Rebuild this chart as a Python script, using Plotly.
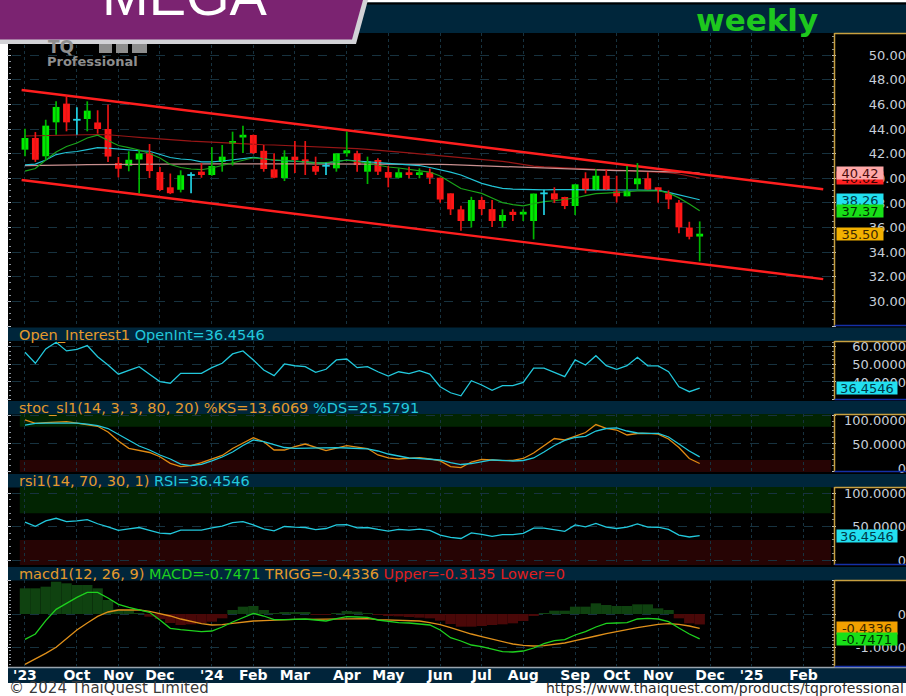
import plotly.graph_objects as go
import pandas as pd

W, H = 906, 696

# ---------------------------------------------------------------- data
weeks = pd.date_range("2023-08-28", periods=66, freq="W-MON").strftime("%d %b %Y").tolist()
xs = list(range(len(weeks)))

month_pos = [0, 5, 9, 13, 18, 22, 26, 31, 35, 40, 44, 48, 53, 57, 61, 66, 70, 75]
month_text = ["'23", "Oct", "Nov", "Dec", "'24", "Feb", "Mar", "Apr", "May", "Jun",
              "Jul", "Aug", "Sep", "Oct", "Nov", "Dec", "'25", "Feb"]

open_ = [42.33, 43.28, 41.79, 44.55, 46.07, 44.76, 44.82, 44.54, 44.01, 41.24,
         41.02, 41.53, 42.04, 40.51, 39.27, 39.07, 40.27, 40.54, 40.27, 41.33,
         42.79, 43.32, 43.52, 42.24, 40.73, 40.02, 41.76, 41.54, 41.00, 41.02,
         40.81, 42.03, 42.03, 40.54, 41.49, 40.51, 40.05, 40.49, 40.27, 40.49,
         40.05, 38.78, 37.48, 36.53, 38.24, 37.50, 36.53, 37.28, 37.06, 36.53,
         38.78, 38.78, 38.48, 37.75, 40.00, 39.05, 40.21, 38.94, 38.54, 39.52,
         40.00, 39.27, 38.78, 38.02, 36.00, 35.27]
high = [44.03, 43.76, 44.76, 46.26, 46.75, 45.77, 46.26, 45.53, 46.00, 41.73,
        42.20, 42.30, 42.79, 40.92, 40.39, 40.65, 40.49, 41.24, 42.54, 42.71,
        43.79, 44.28, 43.56, 42.71, 42.03, 42.28, 43.03, 43.03, 41.76, 41.27,
        42.03, 43.79, 42.24, 41.76, 41.63, 41.00, 40.81, 40.94, 40.81, 40.81,
        40.05, 38.78, 37.77, 38.50, 38.50, 38.24, 37.48, 37.48, 37.48, 38.76,
        39.07, 39.27, 38.50, 39.51, 40.49, 40.73, 40.73, 40.21, 41.00, 41.24,
        40.49, 39.27, 39.02, 38.24, 36.47, 36.50]
low = [41.79, 41.33, 41.51, 43.54, 43.82, 43.54, 43.82, 43.63, 41.33, 40.08,
       40.57, 38.78, 40.02, 38.97, 38.72, 38.86, 38.78, 40.05, 40.20, 40.54,
       41.04, 42.06, 41.98, 40.54, 40.00, 39.78, 40.43, 40.27, 40.27, 40.27,
       40.54, 41.76, 40.54, 39.54, 40.27, 39.27, 40.00, 40.00, 40.00, 39.54,
       38.02, 37.02, 35.74, 36.00, 37.02, 36.04, 36.02, 36.53, 36.53, 35.04,
       37.02, 37.99, 37.50, 37.02, 38.78, 39.05, 39.05, 38.03, 38.54, 39.05,
       39.05, 38.02, 37.50, 35.53, 35.04, 33.25]
close = [43.28, 41.51, 44.28, 45.80, 44.55, 44.76, 45.50, 44.01, 41.77, 40.78,
         41.51, 42.02, 40.59, 39.05, 38.79, 40.25, 40.27, 40.27, 41.00, 41.76,
         43.03, 43.54, 42.06, 40.76, 40.05, 41.76, 41.49, 41.27, 40.54, 41.02,
         42.03, 42.28, 41.08, 41.38, 40.54, 40.05, 40.49, 40.27, 40.49, 40.05,
         38.28, 37.48, 36.53, 38.24, 37.50, 36.53, 37.02, 37.02, 37.28, 38.76,
         38.78, 38.28, 37.75, 39.51, 39.05, 40.21, 39.05, 38.54, 38.99, 40.00,
         39.09, 38.98, 38.28, 36.02, 35.25, 35.50]

ma_fast = [40.59, 40.80, 41.49, 42.14, 42.59, 42.87, 43.28, 43.50, 43.07, 42.67,
           42.50, 42.30, 42.02, 41.65, 41.12, 40.88, 40.76, 40.70, 40.84, 41.06,
           41.24, 41.49, 41.67, 41.57, 41.49, 41.45, 41.41, 41.33, 41.24, 41.28,
           41.37, 41.47, 41.37, 41.22, 41.08, 40.92, 40.84, 40.72, 40.63, 40.51,
           40.19, 39.70, 39.17, 38.97, 38.78, 38.40, 38.03, 37.87, 37.77, 37.95,
           38.11, 38.18, 38.26, 38.40, 38.60, 38.76, 38.80, 38.83, 38.91, 38.97,
           38.99, 38.99, 38.82, 38.41, 37.91, 37.37]
ma_mid = [41.10, 41.15, 41.49, 41.93, 42.10, 42.18, 42.34, 42.49, 42.45, 42.36,
          42.30, 42.24, 42.20, 41.93, 41.69, 41.57, 41.51, 41.33, 41.33, 41.41,
          41.53, 41.65, 41.71, 41.59, 41.47, 41.43, 41.41, 41.34, 41.27, 41.23,
          41.37, 41.49, 41.41, 41.33, 41.26, 41.22, 41.16, 41.11, 41.04, 40.88,
          40.70, 40.51, 40.27, 39.90, 39.59, 39.37, 39.19, 39.13, 39.09, 39.05,
          39.07, 39.09, 39.11, 39.09, 39.07, 39.05, 39.05, 39.05, 39.05, 39.05,
          39.05, 39.02, 38.86, 38.64, 38.44, 38.26]
ma_slow = [43.44, 43.46, 43.50, 43.52, 43.55, 43.58, 43.60, 43.56, 43.54, 43.50,
           43.40, 43.33, 43.26, 43.20, 43.13, 43.07, 43.02, 42.98, 42.93, 42.89,
           42.85, 42.80, 42.77, 42.73, 42.71, 42.68, 42.65, 42.63, 42.59, 42.54,
           42.50, 42.46, 42.42, 42.36, 42.30, 42.22, 42.15, 42.07, 41.98, 41.91,
           41.84, 41.75, 41.67, 41.59, 41.50, 41.45, 41.37, 41.26, 41.12, 41.00,
           40.93, 40.88, 40.84, 40.80, 40.76, 40.73, 40.71, 40.67, 40.65, 40.63,
           40.59, 40.55, 40.47, 40.35, 40.19, 40.02]
ma_long = [41.04, 41.04, 41.05, 41.06, 41.10, 41.10, 41.11, 41.12, 41.12, 41.14,
           41.15, 41.15, 41.15, 41.15, 41.16, 41.16, 41.16, 41.17, 41.17, 41.17,
           41.18, 41.18, 41.18, 41.18, 41.18, 41.18, 41.18, 41.18, 41.18, 41.18,
           41.18, 41.18, 41.18, 41.18, 41.18, 41.18, 41.17, 41.17, 41.17, 41.16,
           41.14, 41.11, 41.08, 41.04, 41.00, 40.96, 40.92, 40.88, 40.85, 40.84,
           40.81, 40.79, 40.76, 40.73, 40.71, 40.67, 40.65, 40.63, 40.62, 40.60,
           40.59, 40.57, 40.54, 40.51, 40.48, 40.42]

channel_x = [-0.32, 76.9]
channel_upper = [47.18, 39.11]
channel_lower = [39.86, 31.81]

rsi = [56.8, 50.6, 58.7, 62.5, 57.6, 58.5, 60.6, 54.3, 49.6, 44.4,
       46.6, 48.7, 44.4, 40.2, 39.3, 44.9, 44.9, 44.9, 48.1, 50.6,
       55.9, 57.6, 52.5, 46.8, 43.6, 50.2, 49.2, 48.7, 45.5, 47.2,
       52.5, 53.0, 48.1, 48.7, 45.8, 43.4, 45.8, 44.7, 46.4, 44.5,
       37.3, 33.9, 32.2, 40.7, 38.3, 35.3, 37.9, 37.9, 39.8, 47.8,
       47.8, 45.5, 43.0, 52.5, 49.6, 54.9, 49.2, 47.2, 49.2, 54.0,
       49.2, 49.1, 45.8, 37.3, 34.5, 36.4546]
open_int = rsi  # the Open_Interest1 pane plots the very same series (OpenInt = RSI = 36.4546)

stoch_k = [92.1, 86.1, 87.5, 88.4, 89.0, 86.6, 83.9, 80.7, 70.4, 54.2,
           41.0, 37.0, 33.4, 25.8, 13.9, 7.8, 9.9, 15.3, 21.7, 28.0,
           40.6, 50.5, 60.1, 52.9, 37.9, 37.9, 44.2, 48.7, 42.4, 37.0,
           41.5, 45.7, 43.3, 40.6, 28.9, 23.5, 21.7, 22.6, 24.0, 21.7,
           18.1, 7.8, 6.0, 16.2, 20.8, 19.9, 18.6, 19.3, 22.6, 32.5,
           46.0, 58.7, 56.0, 63.2, 69.5, 83.9, 77.1, 74.0, 65.0, 67.7,
           68.1, 66.4, 57.8, 42.4, 22.6, 13.6069]
stoch_d = [83.0, 86.1, 86.6, 87.0, 87.2, 86.6, 84.8, 82.1, 76.7, 65.9,
           56.0, 45.1, 37.9, 28.9, 21.7, 12.6, 9.9, 12.1, 18.1, 25.3,
           34.3, 46.0, 56.0, 53.2, 47.8, 42.4, 41.0, 41.5, 41.9, 42.1,
           42.1, 41.5, 41.0, 40.1, 36.1, 30.7, 27.1, 23.5, 22.6, 21.7,
           19.9, 15.3, 11.7, 13.5, 16.2, 19.9, 19.3, 18.1, 19.0, 23.5,
           34.3, 46.0, 55.1, 60.5, 62.6, 72.2, 76.7, 78.0, 72.2, 68.6,
           68.1, 68.1, 61.4, 48.7, 36.1, 25.5791]

macd = [-0.76, -0.60, -0.20, 0.14, 0.32, 0.50, 0.65, 0.65, 0.48, 0.29,
        0.20, 0.12, 0.05, -0.18, -0.43, -0.47, -0.50, -0.53, -0.51, -0.39,
        -0.24, -0.11, 0.02, -0.06, -0.17, -0.17, -0.15, -0.15, -0.18, -0.21,
        -0.14, -0.08, -0.09, -0.10, -0.18, -0.23, -0.26, -0.27, -0.29, -0.33,
        -0.48, -0.71, -0.81, -0.93, -0.98, -1.05, -1.13, -1.14, -1.11, -1.02,
        -0.89, -0.80, -0.77, -0.63, -0.53, -0.39, -0.28, -0.27, -0.26, -0.15,
        -0.13, -0.15, -0.23, -0.42, -0.60, -0.7471]
trigg = [-1.51, -1.35, -1.18, -1.00, -0.74, -0.48, -0.27, -0.07, 0.06, 0.12,
         0.12, 0.12, 0.08, 0.02, -0.06, -0.15, -0.23, -0.29, -0.33, -0.32,
         -0.28, -0.24, -0.21, -0.20, -0.18, -0.17, -0.16, -0.16, -0.16, -0.16,
         -0.15, -0.14, -0.14, -0.14, -0.17, -0.18, -0.19, -0.20, -0.21, -0.26,
         -0.32, -0.41, -0.51, -0.60, -0.68, -0.75, -0.83, -0.90, -0.94, -0.96,
         -0.95, -0.92, -0.87, -0.80, -0.74, -0.66, -0.59, -0.52, -0.47, -0.41,
         -0.35, -0.31, -0.29, -0.31, -0.36, -0.4336]
macd_hist = [0.77, 0.77, 0.82, 0.97, 0.92, 0.87, 0.87, 0.77, 0.42, 0.14,
             0.12, 0.02, -0.08, -0.15, -0.27, -0.33, -0.31, -0.27, -0.23, -0.13,
             0.12, 0.22, 0.24, 0.12, 0.02, 0.04, 0.04, 0.04, -0.01, -0.03,
             0.01, 0.09, 0.07, 0.03, -0.01, -0.05, -0.07, -0.09, -0.11, -0.13,
             -0.20, -0.30, -0.38, -0.38, -0.36, -0.33, -0.31, -0.28, -0.21, -0.05,
             0.02, 0.10, 0.10, 0.22, 0.22, 0.32, 0.27, 0.24, 0.24, 0.29,
             0.29, 0.17, 0.12, -0.13, -0.28, -0.3135]

price_tick_vals = [30, 32, 34, 36, 38, 40, 42, 44, 46, 48, 50]
oi_tick_vals = [40, 50, 60]
osc_tick_vals = [0, 50, 100]
macd_tick_vals = [-1, 0]

# ---------------------------------------------------------------- styling / geometry
FONT = "DejaVu Sans"
GRID = "#17323f"
NAVY = "#00263b"
ORANGE = "#e49a2c"
CYAN = "#22c8dc"
GREEN_TXT = "#1ed21e"
RED_TXT = "#e01e1e"
AXIS_TXT = "#c6ced9"

X_RANGE = [-1.25, 77.65]
PLOT_X = [12 / W, 831 / W]
# name, top px, bottom px, data range, grid dtick, minor dtick
PANELS = [
    ("price", 33, 326, [28.0, 51.81], 2, 0.5),
    ("oi", 341, 400, [29.8, 63.2], 10, 2.5),
    ("stoch", 414, 472, [-1.8, 102.9], 50, 10),
    ("rsi", 487, 565, [-7.5, 109.4], 50, 10),
    ("macd", 580, 667, [-1.59, 1.02], 1, 0.1),
]


def fx(px):
    return px / W


def fy(py):
    return 1 - py / H


def aid(prefix, n):
    return prefix if n == 1 else f"{prefix}{n}"


fig = go.Figure()

# ---------------------------------------------------------------- price pane
for vals, col in ((ma_slow, "#981616"), (ma_long, "#c99090"), (ma_mid, "#22c4d6"), (ma_fast, "#1aa51a")):
    fig.add_trace(go.Scatter(x=xs, y=vals, mode="lines", line=dict(color=col, width=1.2),
                             xaxis="x", yaxis="y", hoverinfo="skip", showlegend=False))

for vals in (channel_upper, channel_lower):
    fig.add_trace(go.Scatter(x=channel_x, y=vals, mode="lines", line=dict(color="#ff1e1e", width=2.4),
                             xaxis="x", yaxis="y", hoverinfo="skip", showlegend=False))

up = [i for i in xs if close[i] > open_[i]]
dn = [i for i in xs if close[i] < open_[i]]
dj = [i for i in xs if close[i] == open_[i]]


def wicks(ids):
    wx, wy = [], []
    for i in ids:
        wx += [i, i, None]
        wy += [low[i], high[i], None]
    return wx, wy


for ids, col in ((up, "#00b400"), (dn, "#e81414"), (dj, "#22d0e2")):
    wx, wy = wicks(ids)
    fig.add_trace(go.Scatter(x=wx, y=wy, mode="lines", line=dict(color=col, width=1.7),
                             xaxis="x", yaxis="y", hoverinfo="skip", showlegend=False))

for ids, col in ((up, "#00ec00"), (dn, "#ff1616")):
    fig.add_trace(go.Bar(x=ids, y=[abs(close[i] - open_[i]) for i in ids],
                         base=[min(open_[i], close[i]) for i in ids], width=0.66,
                         marker=dict(color=col, line=dict(width=0)),
                         customdata=[weeks[i] for i in ids],
                         xaxis="x", yaxis="y", hoverinfo="skip", showlegend=False))

dx, dy = [], []
for i in dj:
    dx += [i - 0.36, i + 0.36, None]
    dy += [close[i], close[i], None]
fig.add_trace(go.Scatter(x=dx, y=dy, mode="lines", line=dict(color="#22d0e2", width=1.8),
                         xaxis="x", yaxis="y", hoverinfo="skip", showlegend=False))

# ---------------------------------------------------------------- sub panes
fig.add_trace(go.Scatter(x=xs, y=open_int, mode="lines", line=dict(color=CYAN, width=1.3),
                         xaxis="x2", yaxis="y2", hoverinfo="skip", showlegend=False))
fig.add_trace(go.Scatter(x=xs, y=stoch_k, mode="lines", line=dict(color="#e08a12", width=1.3),
                         xaxis="x3", yaxis="y3", hoverinfo="skip", showlegend=False))
fig.add_trace(go.Scatter(x=xs, y=stoch_d, mode="lines", line=dict(color=CYAN, width=1.3),
                         xaxis="x3", yaxis="y3", hoverinfo="skip", showlegend=False))
fig.add_trace(go.Scatter(x=xs, y=rsi, mode="lines", line=dict(color=CYAN, width=1.3),
                         xaxis="x4", yaxis="y4", hoverinfo="skip", showlegend=False))
fig.add_trace(go.Bar(x=xs, y=macd_hist, width=1.0,
                     marker=dict(color=["#0f4210" if v >= 0 else "#4a0808" for v in macd_hist],
                                 line=dict(width=0)),
                     xaxis="x5", yaxis="y5", hoverinfo="skip", showlegend=False))
fig.add_trace(go.Scatter(x=xs, y=trigg, mode="lines", line=dict(color="#e0901a", width=1.3),
                         xaxis="x5", yaxis="y5", hoverinfo="skip", showlegend=False))
fig.add_trace(go.Scatter(x=xs, y=macd, mode="lines", line=dict(color="#1ed21e", width=1.3),
                         xaxis="x5", yaxis="y5", hoverinfo="skip", showlegend=False))

# ---------------------------------------------------------------- axes
layout = dict(
    width=W, height=H, margin=dict(l=0, r=0, t=0, b=0), template="none",
    paper_bgcolor="white", plot_bgcolor="black", showlegend=False, barmode="overlay",
    hovermode=False, dragmode=False, font=dict(family=FONT, size=13, color=AXIS_TXT),
)

label_specs = {
    "price": (price_tick_vals, [f"{v:.2f}" for v in price_tick_vals], None),
    "oi": (oi_tick_vals, [f"{v:.4f}" for v in oi_tick_vals], None),
    "stoch": (osc_tick_vals, ["0", "50.0000", "100.0000"], [-8.3, 112.5]),
    "rsi": (osc_tick_vals, ["0", "50.0000", "100.0000"], None),
    "macd": (macd_tick_vals, ["-1.0000", "0"], None),
}

for n, (name, top, bot, yr, dt, mdt) in enumerate(PANELS, start=1):
    xid, yid = aid("x", n), aid("y", n)
    layout[aid("xaxis", n)] = dict(
        domain=PLOT_X, range=X_RANGE, anchor=yid, tickmode="array", tickvals=month_pos,
        ticktext=month_text, showgrid=True, gridcolor=GRID, griddash="dot", gridwidth=1,
        zeroline=False, showline=False, ticks="", showticklabels=(name == "macd"),
        tickfont=dict(family=FONT, size=14, color="white", weight="bold"),
        ticklabelstandoff=-2, fixedrange=True, automargin=False)
    layout[aid("yaxis", n)] = dict(
        domain=[fy(bot), fy(top)], range=yr, anchor=xid, side="right", tickmode="linear",
        tick0=0, dtick=dt, showticklabels=False, ticks="outside", ticklen=4, tickwidth=1,
        tickcolor="#bfc6cf", mirror="ticks", showline=False,
        minor=dict(ticks="outside", ticklen=2, dtick=mdt, tick0=0, tickcolor="#8c949c", showgrid=False),
        showgrid=True, gridcolor=GRID, griddash="dash", gridwidth=1, zeroline=False,
        fixedrange=True, automargin=False)
    vals, texts, lrange = label_specs[name]
    lid = 5 + n
    layout[aid("yaxis", lid)] = dict(
        overlaying=yid, anchor="free", position=1.0, side="left",
        range=lrange if lrange else yr, tickmode="array", tickvals=vals, ticktext=texts,
        showgrid=False, zeroline=False, showline=False, ticks="",
        tickfont=dict(family=FONT, size=13, color=AXIS_TXT), fixedrange=True, automargin=False)
    fig.add_trace(go.Scatter(x=[X_RANGE[0]], y=[yr[0]], mode="markers", marker=dict(opacity=0),
                             xaxis=xid, yaxis=aid("y", lid), hoverinfo="skip", showlegend=False))

# ---------------------------------------------------------------- shapes
shapes = []


def rect(x0, y0, x1, y1, color, layer="below"):
    shapes.append(dict(type="rect", xref="paper", yref="paper", x0=fx(x0), x1=fx(x1),
                       y0=fy(y1), y1=fy(y0), fillcolor=color, line=dict(width=0), layer=layer))


def hline(x0, x1, y, color, w=1.2, layer="below"):
    shapes.append(dict(type="line", xref="paper", yref="paper", x0=fx(x0), x1=fx(x1),
                       y0=fy(y), y1=fy(y), line=dict(color=color, width=w), layer=layer))


def vline(x, y0, y1, color, w=1.2, layer="below"):
    shapes.append(dict(type="line", xref="paper", yref="paper", x0=fx(x), x1=fx(x),
                       y0=fy(y0), y1=fy(y1), line=dict(color=color, width=w), layer=layer))


rect(8, 33, 906, 667, "black")                 # chart background
rect(8, 2.5, 906, 33, NAVY)                     # header strip
rect(8, 2.5, 906, 4.5, "#000000")
for t in (327.5, 401, 474, 567):                # indicator title bars
    rect(8, t, 906, t + 13.5, NAVY)
rect(8, 667, 906, 683, "#01243a")               # time axis strip
hline(8, 906, 667.5, "#9aa4ad", 1.5)
# right-hand value column borders
for name, top, bot, *_ in PANELS:
    vline(834.5, top, bot, "#c8a040", 1.5, "above")
    hline(834.5, 906, top + 0.5, "#c8a040", 1.5, "above")
    hline(834.5, 906, bot - 0.5, "#1530a8", 1.5, "above")

# overbought / oversold zones
for yid, lo, hi, yr in (("y3", 80, 20, [-1.8, 102.9]), ("y4", 70, 30, [-7.5, 109.4])):
    xr = yid.replace("y", "x")
    shapes.append(dict(type="rect", xref=xr, yref=yid, x0=-0.5, x1=X_RANGE[1], y0=lo, y1=yr[1],
                       fillcolor="#022402", line=dict(width=0), layer="below"))
    shapes.append(dict(type="rect", xref=xr, yref=yid, x0=-0.5, x1=X_RANGE[1], y0=yr[0], y1=hi,
                       fillcolor="#260404", line=dict(width=0), layer="below"))


def poly(points, color):
    path = "M " + " L ".join(f"{fx(x):.5f},{fy(y):.5f}" for x, y in points) + " Z"
    shapes.append(dict(type="path", xref="paper", yref="paper", path=path, fillcolor=color,
                       line=dict(width=0), layer="above"))


# logo block (partly under the banner)
rect(99, 41, 147, 53, "#8e8e8e", "above")
rect(112, 41, 116, 53, "black", "above")
rect(128, 44, 132, 53, "black", "above")
poly([(0, 0), (368, 0), (356, 44), (0, 44)], "#d2d2d6")
poly([(0, 0), (363, 0), (352, 39.5), (0, 39.5)], "#7b2371")

layout["shapes"] = shapes

# ---------------------------------------------------------------- annotations
ann = []


def text(x, y, s, size, color, xanchor="left", yanchor="middle", weight="normal", family=FONT):
    ann.append(dict(xref="paper", yref="paper", x=fx(x), y=fy(y), text=s, showarrow=False,
                    xanchor=xanchor, yanchor=yanchor,
                    font=dict(family=family, size=size, color=color, weight=weight)))


def span(s, c):
    return f'<span style="color:{c}">{s}</span>'


text(185, 29, "MEGA", 56, "white", "center", "bottom", family="Liberation Sans")
text(757, 19.5, "weekly", 31, "#1ec81e", "center", weight="bold")
text(61, 47, "TQ", 17, "#8e8e8e", "center", weight="bold")
text(92, 61, "Professional", 13, "#8e8e8e", "center", weight="bold")

TS = 14.5
text(17, 334.5, span("Open_Interest1 ", ORANGE) + span(f"OpenInt={open_int[-1]:.4f}", CYAN), TS, ORANGE)
text(17, 408, span(f"stoc_sl1(14, 3, 3, 80, 20) %KS={stoch_k[-1]:.4f} ", ORANGE)
     + span(f"%DS={stoch_d[-1]:.4f}", CYAN), TS, ORANGE)
text(17, 481, span("rsi1(14, 70, 30, 1) ", ORANGE) + span(f"RSI={rsi[-1]:.4f}", CYAN), TS, ORANGE)
text(17, 574, span("macd1(12, 26, 9) ", ORANGE) + span(f"MACD={macd[-1]:.4f} ", GREEN_TXT)
     + span(f"TRIGG={trigg[-1]:.4f} ", ORANGE)
     + span(f"Upper={macd_hist[-1]:.4f} Lower=0", RED_TXT), TS, ORANGE)

text(7, 688, "© 2024 ThaiQuest Limited", 15, "#3a3a3a")
text(906, 688, "https://www.thaiquest.com/products/tqprofessional", 14, "#2a2a2a", "right")


def value_box(yref, val, label, bg, fg, width):
    ann.append(dict(xref="paper", yref=yref, x=fx(836), y=val, xanchor="left", yanchor="middle",
                    text=label, showarrow=False, bgcolor=bg, width=width, height=12, borderpad=0,
                    align="center", font=dict(family=FONT, size=13, color=fg)))


value_box("y", ma_slow[-1], f"{ma_slow[-1]:.2f}", "#ff2020", "#3a0000", 46)
value_box("y", ma_long[-1], f"{ma_long[-1]:.2f}", "#ffa8a8", "#4a0a0a", 46)
value_box("y", ma_mid[-1], f"{ma_mid[-1]:.2f}", "#22e0f0", "#003848", 46)
value_box("y", ma_fast[-1], f"{ma_fast[-1]:.2f}", "#18e018", "#003000", 46)
value_box("y", close[-1], f"{close[-1]:.2f}", "#f2b000", "#3a2600", 46)
value_box("y2", open_int[-1], f"{open_int[-1]:.4f}", "#22e0f0", "#003848", 60)
value_box("y4", rsi[-1], f"{rsi[-1]:.4f}", "#22e0f0", "#003848", 60)
value_box("y5", trigg[-1], f"{trigg[-1]:.4f}", "#f2a000", "#3a2600", 60)
value_box("y5", macd[-1], f"{macd[-1]:.4f}", "#18e018", "#003000", 60)

layout["annotations"] = ann
fig.update_layout(**layout)
fig.write_html("out.html", config={"displayModeBar": False},
               post_script="document.body.style.margin='0';document.body.style.overflow='hidden';")
